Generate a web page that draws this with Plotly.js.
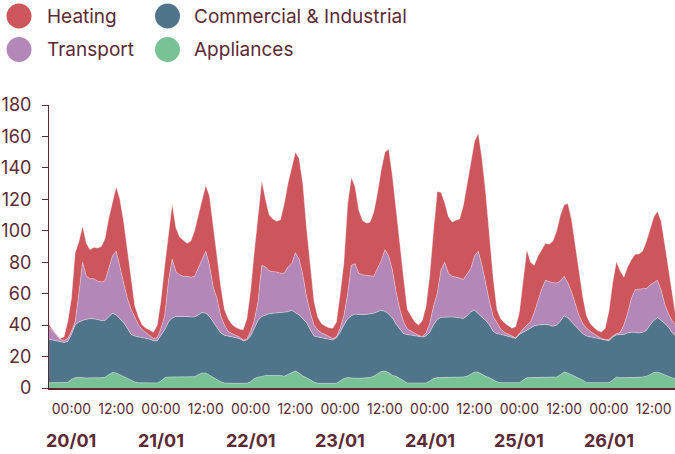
<!DOCTYPE html>
<html>
<head>
<meta charset="utf-8">
<script src="https://cdn.plot.ly/plotly-3.0.1.min.js"></script>
<style>
  html, body { margin: 0; padding: 0; background: #ffffff; }
  #chart { width: 675px; height: 454px; }
</style>
</head>
<body>
<div id="chart"></div>
<script>
// Hourly demand by sector, starting 19/01 18:00 (one value per hour).
const seriesNames = ['Heating', 'Commercial & Industrial', 'Transport', 'Appliances'];

const heating = [
  1.7, 0.5, 0.5, 0.5, 2.5, 10.5, 21, 44, 33, 23, 21, 18.5, 20, 21, 22.5, 27, 32, 34, 41, 43, 39, 31, 20, 7,
  5, 3, 3, 3, 4, 8, 18, 32, 30, 35, 28, 24, 23, 21, 23, 29, 34, 39, 42, 44, 39, 28, 19, 10,
  8, 5.9, 5.2, 5, 6.5, 13, 26, 44, 57, 54, 43, 35.5, 33.5, 32.2, 34, 44, 53, 62, 64, 64, 58, 44, 28, 15,
  8, 6, 5.5, 5.3, 6.5, 9.5, 22, 34, 57, 56, 49, 40, 34.5, 33.3, 34.2, 41, 48, 58, 62, 68, 60, 51, 40, 28,
  12.5, 10, 7.4, 6.5, 10.5, 17, 31, 48, 65, 49.5, 38, 36, 34.6, 36.2, 37.5, 47, 57.5, 68, 73, 75, 68, 58, 40, 24.5,
  9, 6.5, 6, 5.5, 5, 7.2, 13, 30.5, 48, 38, 30, 29, 25, 23.5, 24, 26.5, 33.2, 42, 45.5, 50.3, 46, 38, 27, 17,
  8, 5, 4, 3.5, 4.1, 7.2, 18.2, 34, 46, 39.2, 30.5, 29.5, 24.5, 22.5, 22.3, 23.8, 29.8, 35.5, 41.8, 44, 44, 38, 28, 14.5, 4
];

const transport = [
  7.5, 6, 3.5, 1.5, 1, 2, 2, 2, 18, 37, 27.2, 25.5, 25.5, 24.5, 24.5, 25, 30.5, 36.5, 40.5, 33, 25.5, 19, 16, 12,
  7.5, 5, 3.5, 2.5, 1.5, 2, 4.5, 9, 26, 37.5, 28.5, 26.4, 25.4, 25.5, 25.3, 25.8, 29.5, 33, 39.5, 32.5, 22, 18.5, 11, 6.5,
  3, 1.7, 1.5, 1.1, 0.5, 0.5, 3, 5, 12, 32.5, 30.5, 27.2, 26.5, 26.1, 25, 25, 28.5, 29.6, 38, 35.5, 28, 16.5, 11, 7,
  4.5, 3, 2.3, 1.6, 1, 0.5, 2.5, 6, 16, 32, 32, 26.2, 25.3, 24.9, 24.1, 23.5, 27.5, 31.6, 39.2, 37, 30.5, 20.5, 12.5, 7.5,
  3.5, 2.3, 1.1, 0.5, 0, 2, 5.5, 12, 16.5, 30, 34.8, 27.8, 25.8, 25.5, 25.5, 24.8, 26.5, 27.5, 34.5, 40, 33, 23, 15, 9.5,
  6.5, 3.3, 2, 1.2, 0.7, 0.3, 1, 2, 3.3, 3.5, 8.5, 15, 22.7, 28, 27.5, 27.7, 26.8, 25.5, 25, 22.5, 19, 13.5, 9, 6.5,
  5, 3.5, 2.5, 1.4, 0.5, 0.3, 0.8, 0.5, 0.8, 1.3, 5.9, 12.5, 21.5, 27.1, 28, 27.7, 26.7, 25.5, 24, 23.7, 19, 12, 8.5, 7.5, 7
];

const commercial = [
  27.7, 27.2, 26.7, 26.2, 25.7, 26, 28.5, 33.5, 35.2, 36.5, 37.5, 37.5, 37.7, 37, 36.5, 36.2, 37, 37.7, 36.9, 35.5, 33.9, 31.5, 29, 29.2,
  29.2, 28.8, 28.3, 27.8, 26.8, 26.8, 29, 30.5, 35, 37.5, 38.5, 38.6, 38.6, 38.5, 38.2, 38, 38, 38.4, 38, 37.5, 35.5, 33.2, 31, 30.3,
  30, 29.9, 29, 28.4, 27, 27.5, 29, 32, 36, 38.3, 38.5, 39.3, 39.5, 39.7, 40, 40.5, 40, 39.4, 37.2, 37, 36.4, 35, 32, 29.2,
  29.5, 29, 28.7, 28.4, 27.5, 29, 31, 34, 37.4, 39.8, 40.8, 40.6, 40.5, 40.6, 40.6, 40, 39.5, 38.9, 38, 37.2, 36.5, 33.1, 31.5, 30,
  30.8, 30.5, 30.3, 29.8, 29.3, 29.8, 31, 34, 36.9, 38.4, 38.6, 38.6, 38.6, 38.4, 37.9, 37.2, 38.5, 39.5, 39.3, 37, 36.5, 35.5, 33.5, 31,
  30.6, 30.8, 30.1, 29.4, 28.9, 28.1, 30.6, 30.5, 30.2, 31.9, 32.9, 33.4, 33.7, 33.9, 33.4, 32.7, 33, 34, 35.8, 35, 33.5, 32, 30.5, 29.5,
  29.6, 29.1, 28.6, 28.2, 27.6, 27.1, 26.6, 27.5, 26.7, 27.5, 27.6, 28.5, 29, 28.9, 28.2, 28.5, 29, 31.5, 33.2, 34.6, 33.8, 33, 31.1, 28.8, 27.5
];

const appliances = [
  3.3, 3.3, 3.3, 3.3, 3.3, 3.5, 5.5, 6.5, 6.8, 6.5, 6.3, 6.5, 6.3, 6.5, 6.5, 6.8, 8.5, 9.8, 9.6, 8.5, 7.6, 6.5, 5, 3.8,
  3.3, 3.2, 3.2, 3.2, 3.2, 3.2, 4.5, 6.5, 7, 7, 7, 7, 7, 7, 7, 7.2, 8.5, 9.6, 9.5, 8, 6.5, 5.3, 4, 3.2,
  3, 3, 3, 3, 3, 3, 4, 6, 7, 7.2, 8, 8, 8, 8, 8, 7.5, 8.5, 10, 10.8, 9.5, 7.6, 6.5, 5, 3.8,
  3, 3, 3, 3, 3, 3, 4.5, 6, 6.6, 6.2, 6.2, 6.2, 6.2, 6.2, 6.6, 7.5, 9, 10.5, 10.8, 9.8, 8, 7.4, 6, 4.5,
  3.2, 3.2, 3.2, 3.2, 3.2, 3.2, 4.5, 6, 6.6, 6.6, 6.6, 6.6, 6.6, 6.6, 6.6, 7, 7.5, 9, 10.2, 10, 8.5, 7.5, 6.5, 5,
  3.9, 3.4, 3.4, 3.4, 3.4, 3.4, 3.4, 5, 6.5, 6.6, 6.6, 6.6, 6.6, 6.6, 6.6, 6.6, 7, 8.5, 10.2, 9.5, 8.5, 7.5, 6.5, 5,
  3.4, 3.4, 3.4, 3.4, 3.4, 3.4, 3.4, 5, 7, 6.5, 6.5, 6.5, 6.5, 6.5, 6.8, 7, 7.5, 8.5, 9.8, 10.2, 9.2, 8, 7.4, 6.2, 5.5
];

const dayLabels = ['20/01', '21/01', '22/01', '23/01', '24/01', '25/01', '26/01'];
const hourLabels = ['00:00', '12:00'];

const YEAR = 2025;
const START = Date.UTC(YEAR, 0, 19, 18);   // first reading: 19/01 18:00
const RANGE_END_HOURS = 167.7;

const colors = {
  'Heating': '#cd555c',
  'Commercial & Industrial': '#50758b',
  'Transport': '#b387b7',
  'Appliances': '#78c295'
};
const ink = '#5c2a35';
const fontFamily = 'Inter, "Noto Sans", sans-serif';

function stamp(hoursFromStart) {
  const d = new Date(START + hoursFromStart * 3600e3);
  return d.toISOString().slice(0, 16).replace('T', ' ');
}
function dayIso(label) {
  const [dd, mm] = label.split('/');
  return `${YEAR}-${mm}-${dd}`;
}

const times = appliances.map((_, i) => stamp(i));

// Stack from the bottom up: appliances, commercial, transport, heating.
const stackOrder = [
  ['Appliances', appliances],
  ['Commercial & Industrial', commercial],
  ['Transport', transport],
  ['Heating', heating]
];

const traces = stackOrder.map(([name, values]) => ({
  type: 'scatter',
  mode: 'lines',
  name: name,
  x: times,
  y: values,
  stackgroup: 'demand',
  fillcolor: colors[name],
  line: { color: 'rgba(255,255,255,0.45)', width: 0.8, shape: 'linear' },
  hoverinfo: 'skip',
  showlegend: false
}));

const tickvals = [];
const ticktext = [];
dayLabels.forEach(d => hourLabels.forEach(h => {
  tickvals.push(`${dayIso(d)} ${h}`);
  ticktext.push(h);
}));

// Plot box in pixels, used to place the legend swatches.
const W = 675, H = 454;
const M = { l: 49, r: 0, t: 105, b: 66 };
const plotW = W - M.l - M.r, plotH = H - M.t - M.b;
const px2paperX = px => (px - M.l) / plotW;
const px2paperY = py => (H - M.b - py) / plotH;

const legendItems = [
  { name: 'Heating', cx: 19, cy: 16, tx: 45 },
  { name: 'Commercial & Industrial', cx: 167.5, cy: 16, tx: 192 },
  { name: 'Transport', cx: 19, cy: 49.5, tx: 45 },
  { name: 'Appliances', cx: 167.5, cy: 49.5, tx: 192 }
];

const shapes = legendItems.map(it => ({
  type: 'circle',
  xref: 'paper', yref: 'paper',
  xsizemode: 'pixel', ysizemode: 'pixel',
  xanchor: px2paperX(it.cx), yanchor: px2paperY(it.cy),
  x0: -12.5, x1: 12.5, y0: -12.5, y1: 12.5,
  fillcolor: colors[it.name],
  line: { width: 0 }
}));

const annotations = legendItems.map(it => ({
  xref: 'paper', yref: 'paper',
  x: px2paperX(it.tx), y: px2paperY(it.cy),
  xanchor: 'left', yanchor: 'middle',
  text: it.name, showarrow: false,
  font: { family: fontFamily, size: 19, color: ink }
})).concat(dayLabels.map(d => ({
  xref: 'x', yref: 'paper',
  x: `${dayIso(d)} 00:00`, y: px2paperY(440.5),
  xanchor: 'center', yanchor: 'middle',
  text: `<b>${d}</b>`, showarrow: false,
  font: { family: fontFamily, size: 18, color: ink }
})));

const layout = {
  width: W, height: H,
  margin: M,
  paper_bgcolor: '#ffffff',
  plot_bgcolor: '#ffffff',
  showlegend: false,
  hovermode: false,
  font: { family: fontFamily, color: ink },
  xaxis: {
    type: 'date',
    range: [stamp(0), stamp(RANGE_END_HOURS)],
    tickmode: 'array',
    tickvals: tickvals,
    ticktext: ticktext,
    ticks: '',
    showgrid: false,
    zeroline: false,
    showline: true,
    linecolor: ink,
    linewidth: 1.5,
    ticklabelstandoff: 8,
    tickfont: { family: fontFamily, size: 14, color: ink },
    fixedrange: true
  },
  yaxis: {
    range: [0, 180],
    tickmode: 'linear',
    tick0: 0,
    dtick: 20,
    ticks: 'outside',
    ticklen: 6,
    tickwidth: 1,
    tickcolor: ink,
    showgrid: false,
    zeroline: false,
    showline: true,
    linecolor: ink,
    linewidth: 1,
    ticklabelstandoff: 7,
    tickfont: { family: fontFamily, size: 18, color: ink },
    fixedrange: true
  },
  shapes: shapes,
  annotations: annotations
};

Plotly.newPlot('chart', traces, layout, { displayModeBar: false, staticPlot: true });
</script>
</body>
</html>
